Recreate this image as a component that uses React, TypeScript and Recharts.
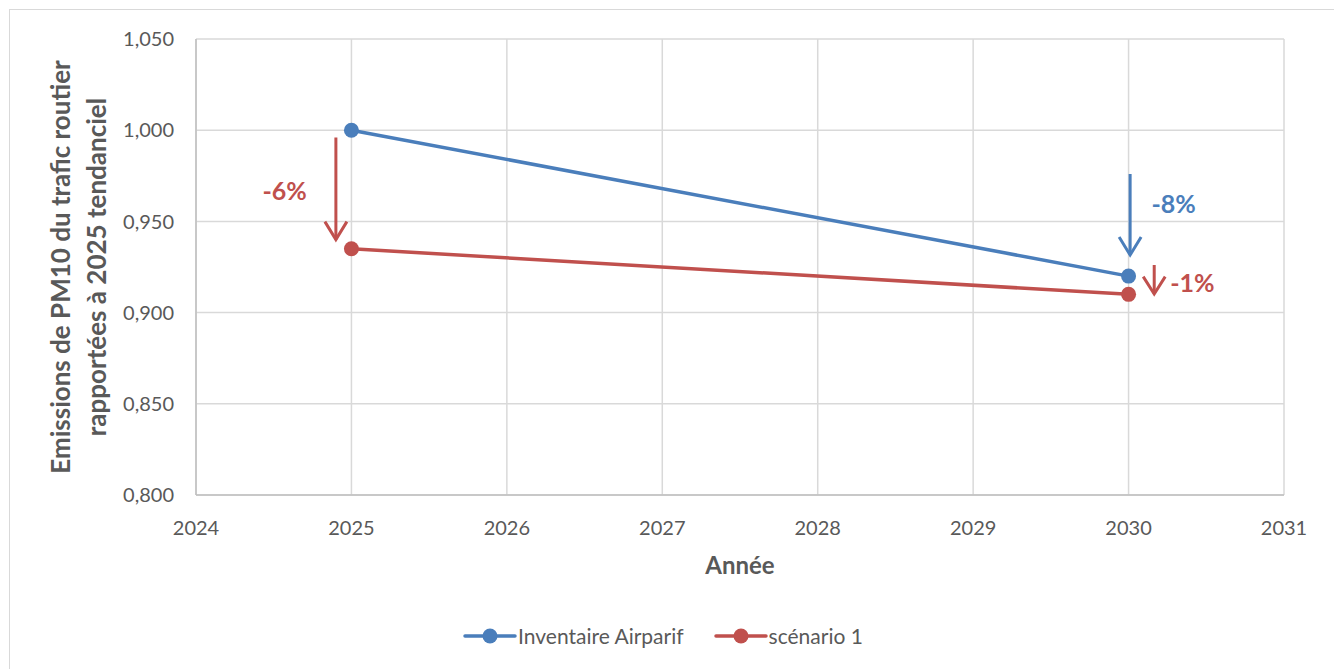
import React from "react";
import { LineChart, Line, XAxis, YAxis, CartesianGrid, ReferenceLine, ReferenceDot } from "recharts";

const years = [2025, 2030];
const airparif = [1.0, 0.92];
const scenario1 = [0.935, 0.91];
const xTicks = [2024, 2025, 2026, 2027, 2028, 2029, 2030, 2031];
const yTicks = [0.8, 0.85, 0.9, 0.95, 1.0, 1.05];

// arrows & percent labels, in data units
const arrows = [
  { x: 2024.9, from: 0.996, to: 0.94, color: "#c0504d" },
  { x: 2030.01, from: 0.976, to: 0.9316, color: "#4a7ebb" },
  { x: 2030.165, from: 0.9261, to: 0.9102, color: "#c0504d" },
];
const notes = [
  { x: 2024.57, y: 0.967, text: "-6%", color: "#c0504d" },
  { x: 2030.29, y: 0.96, text: "-8%", color: "#4a7ebb" },
  { x: 2030.41, y: 0.9168, text: "-1%", color: "#c0504d" },
];

const BLUE = "#4a7ebb";
const RED = "#c0504d";
const GREY = "#595959";
const FONT = "Lato, 'Open Sans', sans-serif";

const data = years.map((year, i) => ({ year, airparif: airparif[i], scenario: scenario1[i] }));

const fmt = (v: number) => v.toFixed(3).replace(".", ",");

const Arrow = (color: string) => (p: any) => {
  const { x1, y1, x2, y2 } = p;
  const head = Math.min(18, (y2 - y1) * 0.6);
  return (
    <g>
      <line x1={x1} y1={y1} x2={x2} y2={y2} stroke={color} strokeWidth={3} />
      <polyline
        points={`${x2 - 11},${y2 - head} ${x2},${y2} ${x2 + 11},${y2 - head}`}
        fill="none"
        stroke={color}
        strokeWidth={3}
      />
    </g>
  );
};

const Note = (text: string, color: string) => (p: any) => (
  <text x={p.cx} y={p.cy} textAnchor="middle" dominantBaseline="central" fill={color} fontSize={25} fontWeight={700} fontFamily={FONT}>
    {text}
  </text>
);

const YTitle = ({ viewBox }: any) => {
  const cy = viewBox.y + viewBox.height / 2;
  const lines = ["Emissions de PM10 du trafic routier", "rapportées à 2025 tendanciel"];
  return (
    <g>
      {lines.map((l, i) => (
        <text
          key={i}
          x={50 + i * 36}
          y={cy}
          transform={`rotate(-90 ${50 + i * 36} ${cy})`}
          textAnchor="middle"
          dominantBaseline="central"
          fill={GREY}
          fontSize={26}
          fontWeight={700}
          fontFamily={FONT}
        >
          {l}
        </text>
      ))}
    </g>
  );
};

const XTitle = ({ viewBox }: any) => (
  <text
    x={viewBox.x + viewBox.width / 2}
    y={viewBox.y + 69}
    textAnchor="middle"
    dominantBaseline="central"
    fill={GREY}
    fontSize={24}
    fontWeight={700}
    fontFamily={FONT}
  >
    Année
  </text>
);

const LegendItem = ({ color, label, gap }: { color: string; label: string; gap: number }) => (
  <div style={{ display: "flex", alignItems: "center", marginRight: gap }}>
    <svg width={54} height={16}>
      <line x1={2} y1={8} x2={52} y2={8} stroke={color} strokeWidth={3.5} strokeLinecap="round" />
      <circle cx={27} cy={8} r={7.5} fill={color} />
    </svg>
    <span style={{ marginLeft: 1, fontSize: 21, color: GREY }}>{label}</span>
  </div>
);

export default function App() {
  return (
    <div
      style={{
        position: "relative",
        width: 1326,
        height: 680,
        marginLeft: 1,
        marginTop: 1,
        border: "1px solid #d9d9d9",
        fontFamily: FONT,
        background: "#fff",
      }}
    >
      <LineChart width={1326} height={670} data={data} margin={{ top: 29, right: 52, left: 0, bottom: 105 }}>
        <CartesianGrid stroke="#d9d9d9" strokeWidth={1.5} />
        <XAxis
          dataKey="year"
          type="number"
          domain={[2024, 2031]}
          ticks={xTicks}
          interval={0}
          height={80}
          tickLine={false}
          tickSize={0}
          tickMargin={26}
          axisLine={{ stroke: "#bfbfbf", strokeWidth: 1.5 }}
          tick={{ fill: GREY, fontSize: 20, fontFamily: FONT }}
          label={<XTitle />}
        />
        <YAxis
          type="number"
          domain={[0.8, 1.05]}
          ticks={yTicks}
          interval={0}
          width={186}
          tickLine={false}
          tickSize={0}
          tickMargin={22}
          axisLine={{ stroke: "#bfbfbf", strokeWidth: 1.5 }}
          tickFormatter={fmt}
          tick={{ fill: GREY, fontSize: 20, fontFamily: FONT }}
          label={<YTitle />}
        />
        {arrows.map((a, i) => (
          <ReferenceLine
            key={`a${i}`}
            segment={[
              { x: a.x, y: a.from },
              { x: a.x, y: a.to },
            ]}
            shape={Arrow(a.color)}
            ifOverflow="visible"
          />
        ))}
        {notes.map((n, i) => (
          <ReferenceDot key={`n${i}`} x={n.x} y={n.y} r={0} shape={Note(n.text, n.color)} ifOverflow="visible" />
        ))}
        <Line
          dataKey="airparif"
          name="Inventaire Airparif"
          stroke={BLUE}
          strokeWidth={3.5}
          dot={{ r: 7.5, fill: BLUE, stroke: BLUE, strokeWidth: 0 }}
          isAnimationActive={false}
        />
        <Line
          dataKey="scenario"
          name="scénario 1"
          stroke={RED}
          strokeWidth={3.5}
          dot={{ r: 7.5, fill: RED, stroke: RED, strokeWidth: 0 }}
          isAnimationActive={false}
        />
      </LineChart>
      <div
        style={{
          position: "absolute",
          top: 613,
          left: 0,
          width: 1326,
          display: "flex",
          justifyContent: "center",
          paddingRight: 20,
          boxSizing: "border-box",
        }}
      >
        <LegendItem color={BLUE} label="Inventaire Airparif" gap={30} />
        <LegendItem color={RED} label="scénario 1" gap={0} />
      </div>
    </div>
  );
}
